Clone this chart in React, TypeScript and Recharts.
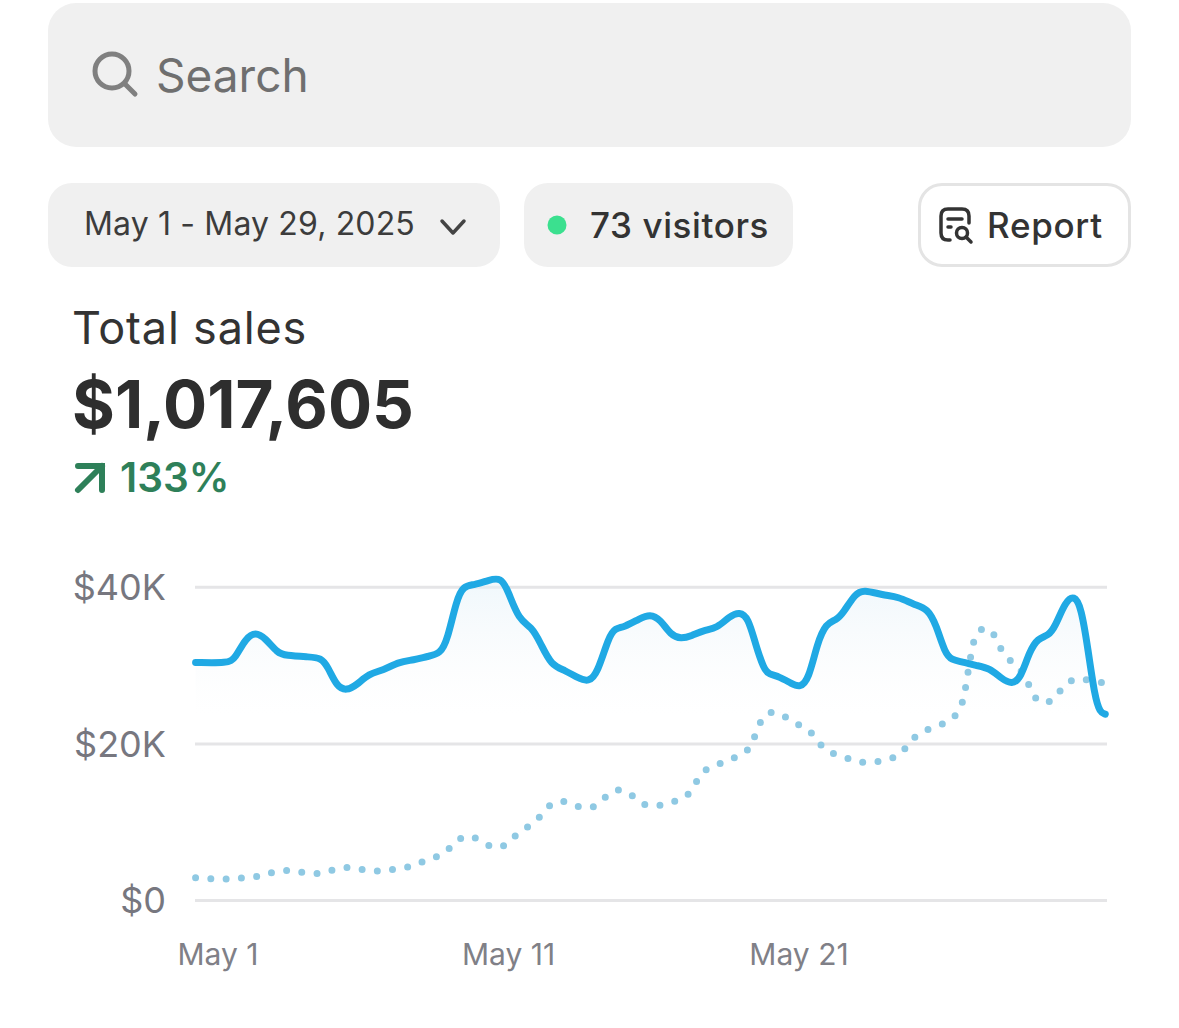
import { Area, CartesianGrid, ComposedChart, Line, XAxis, YAxis } from 'recharts';

// day position on the axis and sales in $K
const currentDays = [
  0.23, 1.34, 1.59, 1.95, 2.3, 2.63, 3.06, 3.31, 4.17, 4.54, 4.78, 5.09, 5.43, 5.77, 6.2, 6.69, 7.24, 7.73, 8.22, 8.65,
  8.9, 9.21, 9.45, 9.82, 10.31, 10.74, 10.99, 11.36, 11.79, 12.1, 12.47, 12.96, 13.39, 13.76, 14.06, 14.45, 14.68,
  14.98, 15.51, 15.87, 16.23, 16.58, 16.94, 17.3, 17.71, 18.19, 18.6, 18.96, 19.25, 19.49, 19.79, 19.97, 20.32, 20.74,
  21.03, 21.33, 21.63, 21.93, 22.28, 22.52, 22.93, 23.23, 23.88, 24.42, 24.95, 25.43, 25.72, 26.02, 26.26, 26.61,
  27.09, 27.56, 27.98, 28.33, 28.63, 28.93, 29.22, 29.58, 29.82, 30.17, 30.47, 30.71, 30.95, 31.18, 31.36, 31.54,
];
const currentSales = [
  30.4, 30.3, 30.9, 33.5, 34.3, 33.5, 31.6, 31.3, 31.1, 31.0, 29.9, 27.3, 26.8, 27.5, 29.0, 29.4, 30.5, 30.7, 31.2,
  31.5, 33.3, 38.4, 40.2, 40.3, 40.9, 41.3, 39.5, 35.8, 35.0, 32.9, 30.0, 29.4, 28.4, 27.9, 29.0, 33.7, 34.8, 34.9,
  36.0, 36.6, 35.9, 33.9, 33.4, 33.8, 34.5, 34.8, 36.3, 36.9, 36.1, 32.9, 29.5, 28.9, 28.6, 27.7, 27.2, 28.2, 32.9,
  35.4, 35.8, 36.7, 39.2, 39.7, 39.0, 38.8, 37.8, 37.3, 35.2, 31.6, 30.7, 30.5, 30.0, 29.7, 28.3, 27.6, 28.4, 31.8,
  33.5, 33.8, 35.0, 38.2, 39.0, 37.5, 32.0, 26.0, 24.0, 23.8,
];
const previousDays = [
  0.23, 0.76, 1.31, 1.86, 2.42, 2.91, 3.47, 3.98, 4.54, 5.04, 5.58, 6.1, 6.65, 7.18, 7.73, 8.2, 8.74, 9.11, 9.51,
  10.02, 10.45, 10.95, 11.27, 11.74, 12.13, 12.44, 12.95, 13.42, 13.95, 14.32, 14.74, 15.22, 15.59, 16.13, 16.63,
  17.15, 17.43, 17.68, 18.19, 18.67, 19.19, 19.44, 19.61, 19.88, 20.39, 20.81, 21.33, 21.63, 21.99, 22.53, 23.02,
  23.57, 24.11, 24.57, 24.84, 25.28, 25.78, 26.28, 26.59, 26.71, 26.79, 26.89, 26.97, 27.14, 27.56, 27.82, 28.04,
  28.45, 28.81, 28.98, 29.26, 29.75, 30.03, 30.44, 30.95, 31.5,
];
const previousSales = [
  2.91, 2.74, 2.7, 2.91, 3.04, 3.68, 3.93, 3.51, 3.34, 4.06, 4.32, 3.81, 3.68, 4.1, 4.32, 5.3, 5.72, 7.26, 8.49, 7.81,
  6.58, 6.96, 8.58, 9.52, 10.79, 12.5, 12.84, 11.82, 11.69, 13.22, 14.41, 13.69, 12.16, 11.99, 12.58, 13.14, 14.88,
  16.67, 17.31, 18.16, 18.72, 20.51, 22.42, 24.21, 23.96, 22.59, 22.04, 20.34, 18.89, 18.42, 17.57, 17.65, 17.95, 18.8,
  20.55, 21.66, 22.34, 23.02, 24.64, 26.6, 28.6, 30.73, 32.6, 34.61, 34.99, 33.2, 31.28, 30.17, 28.6, 26.77, 25.02,
  25.4, 27.15, 28.47, 28.17, 27.79,
];
const yTicks = [0, 20, 40];
const xTicks = [1, 11, 21];

const currentData = currentDays.map((day, i) => ({ day, sales: currentSales[i] }));
const previousData = previousDays.map((day, i) => ({ day, sales: previousSales[i] }));

const font = 'Inter, "Noto Sans", sans-serif';

function Text({ x, y, size, color, weight = 400, spacing = 0, children }: any) {
  return (
    <div
      style={{
        position: 'absolute',
        left: x,
        top: y,
        fontSize: size,
        color,
        fontWeight: weight,
        letterSpacing: spacing,
        lineHeight: 1,
        whiteSpace: 'nowrap',
      }}
    >
      {children}
    </div>
  );
}

function Box({ x, y, w, h, r, bg, border }: any) {
  return (
    <div
      style={{
        position: 'absolute',
        left: x,
        top: y,
        width: w,
        height: h,
        borderRadius: r,
        background: bg,
        border,
        boxSizing: 'border-box',
      }}
    />
  );
}

export default function App() {
  return (
    <div
      style={{
        position: 'absolute',
        left: 0,
        top: 0,
        width: 1179,
        height: 1028,
        background: '#fff',
        fontFamily: font,
        overflow: 'hidden',
      }}
    >
      <Box x={48} y={3} w={1083} h={144} r={28} bg="#f0f0f0" />
      <svg style={{ position: 'absolute', left: 87, top: 45 }} width={60} height={60}>
        <circle cx={25} cy={26} r={17} fill="none" stroke="#808080" strokeWidth={5} />
        <line x1={38} y1={39} x2={48} y2={49} stroke="#808080" strokeWidth={5} strokeLinecap="round" />
      </svg>
      <Text x={156} y={52} size={46} color="#6f6f6f">
        Search
      </Text>

      <Box x={48} y={183} w={452} h={84} r={24} bg="#f0f0f0" />
      <Text x={84} y={208} size={32} color="#3c3c3c" spacing={0.15}>
        May 1 - May 29, 2025
      </Text>
      <svg style={{ position: 'absolute', left: 438, top: 216 }} width={30} height={24}>
        <polyline points="4,5 15,17 26,5" fill="none" stroke="#444" strokeWidth={3.5} strokeLinecap="round" strokeLinejoin="round" />
      </svg>

      <Box x={524} y={183} w={269} h={84} r={24} bg="#f0f0f0" />
      <svg style={{ position: 'absolute', left: 546, top: 214 }} width={22} height={22}>
        <circle cx={11} cy={11} r={9.5} fill="#3be08f" />
      </svg>
      <Text x={590} y={208} size={35} color="#333" weight={500} spacing={0.6}>
        73 visitors
      </Text>

      <Box x={918} y={183} w={213} h={84} r={24} bg="#fff" border="3px solid #e4e4e4" />
      <svg style={{ position: 'absolute', left: 936, top: 204 }} width={44} height={44} fill="none" stroke="#333" strokeWidth={3.5} strokeLinecap="round">
        <path d="M14 36 H12 Q5 36 5 29 V12 Q5 5 12 5 H26 Q33 5 33 12 V19" />
        <line x1={12} y1={15} x2={26} y2={15} />
        <line x1={12} y1={23} x2={15} y2={23} />
        <circle cx={26} cy={29} r={5.5} />
        <line x1={30} y1={33} x2={35} y2={38} />
      </svg>
      <Text x={987} y={208} size={35} color="#333" weight={500} spacing={0.7}>
        Report
      </Text>

      <Text x={72} y={305} size={45} color="#333" spacing={0.8}>
        Total sales
      </Text>
      <Text x={72} y={372} size={65.5} color="#2e2e2e" weight={700}>
        $1,017,605
      </Text>
      <svg style={{ position: 'absolute', left: 72, top: 460 }} width={36} height={36} fill="none" stroke="#2e8059" strokeWidth={6} strokeLinecap="round">
        <polyline points="6,6 30,6 30,30" />
        <line x1={30} y1={6} x2={6} y2={30} />
      </svg>
      <Text x={120} y={458} size={40.5} color="#2e8059" weight={600}>
        133%
      </Text>

      <div style={{ position: 'absolute', left: 0, top: 540 }}>
        <ComposedChart
          width={1179}
          height={450}
          margin={{ top: 16, right: 72, bottom: 0, left: 0 }}
        >
          <defs>
            <linearGradient id="salesFill" x1="0" y1="0" x2="0" y2="1">
              <stop offset="0%" stopColor="#e3f1f9" stopOpacity={0.9} />
              <stop offset="42%" stopColor="#f4f7f9" stopOpacity={0} />
            </linearGradient>
          </defs>
          <CartesianGrid horizontal vertical={false} syncWithTicks stroke="#e5e5e7" strokeWidth={3} />
          <XAxis
            dataKey="day"
            type="number"
            domain={[0.21, 31.6]}
            ticks={xTicks}
            tickFormatter={(d) => `May ${d}`}
            axisLine={false}
            tickLine={false}
            tickSize={0}
            tickMargin={43}
            height={89.5}
            interval={0}
            tick={{ fontSize: 30, fill: '#808087', fontFamily: font }}
          />
          <YAxis
            type="number"
            domain={[0, 44]}
            ticks={yTicks}
            tickFormatter={(v) => `$${v === 0 ? '0' : `${v}K`}`}
            axisLine={false}
            tickLine={false}
            tickSize={0}
            tickMargin={29}
            width={195}
            interval={0}
            tick={{ fontSize: 36, fill: '#77777f', fontFamily: font }}
          />
          <Area
            data={currentData}
            dataKey="sales"
            type="basis"
            stroke="none"
            fill="url(#salesFill)"
            dot={false}
            activeDot={false}
            isAnimationActive={false}
          />
          <Line
            data={previousData}
            dataKey="sales"
            type="basis"
            stroke="#8fc9e3"
            strokeWidth={7}
            strokeDasharray="0 15.3"
            strokeLinecap="round"
            dot={false}
            activeDot={false}
            isAnimationActive={false}
          />
          <Line
            data={currentData}
            dataKey="sales"
            type="basis"
            stroke="#20a9e4"
            strokeWidth={7}
            strokeLinecap="round"
            dot={false}
            activeDot={false}
            isAnimationActive={false}
          />
        </ComposedChart>
      </div>
    </div>
  );
}
